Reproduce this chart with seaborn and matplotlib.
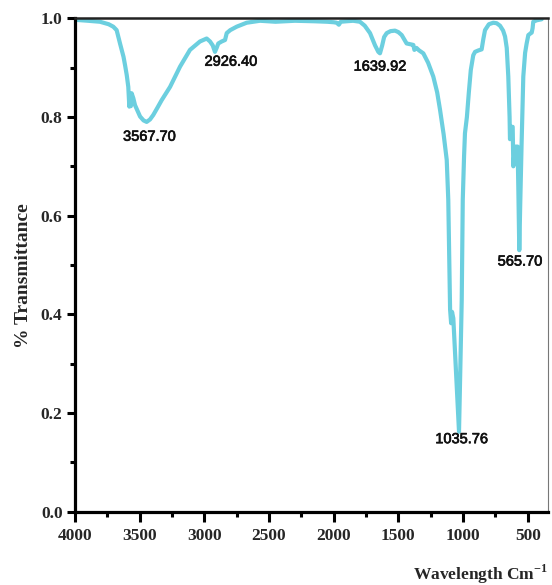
import numpy as np
import pandas as pd
import matplotlib
matplotlib.use("Agg")
import matplotlib.pyplot as plt
import matplotlib.patheffects as pe
from matplotlib.ticker import MultipleLocator
import seaborn as sns

# FTIR spectrum: wavenumber (cm^-1) and transmittance
wavenumber = [4000, 3900, 3807, 3740, 3704, 3678, 3652, 3625, 3613, 3600,
              3588, 3580, 3575, 3568, 3562, 3549, 3536, 3497, 3470, 3446,
              3420, 3395, 3360, 3330, 3265, 3188, 3111, 3034, 2982, 2956,
              2935, 2918, 2905, 2892, 2866, 2840, 2827, 2800, 2750, 2673,
              2570, 2450, 2300, 2150, 2050, 2000, 1977, 1960, 1945, 1900,
              1850, 1797, 1760, 1719, 1680, 1655, 1642, 1625, 1610, 1590,
              1560, 1526, 1500, 1474, 1436, 1400, 1384, 1376, 1360, 1340,
              1307, 1270, 1230, 1200, 1178, 1150, 1126, 1114, 1100, 1092,
              1085, 1075, 1031, 1010, 1002, 992, 985, 970, 955, 940,
              921, 907, 880, 856, 843, 830, 800, 766, 740, 714,
              690, 675, 662, 650, 640, 637, 630, 625, 616, 611,
              605, 593, 578, 572, 565, 558, 547, 534, 520, 508,
              495, 480, 469, 462, 457, 430, 392]
transmittance = [0.997, 0.995, 0.993, 0.988, 0.983, 0.976, 0.949, 0.922, 0.905, 0.885,
                 0.861, 0.821, 0.848, 0.822, 0.848, 0.838, 0.824, 0.801, 0.793, 0.790,
                 0.795, 0.804, 0.820, 0.834, 0.861, 0.902, 0.936, 0.953, 0.959, 0.953,
                 0.945, 0.932, 0.940, 0.949, 0.953, 0.956, 0.970, 0.976, 0.983, 0.991,
                 0.995, 0.993, 0.995, 0.994, 0.993, 0.992, 0.991, 0.987, 0.993, 0.994,
                 0.995, 0.993, 0.985, 0.970, 0.945, 0.932, 0.929, 0.945, 0.962, 0.970,
                 0.974, 0.975, 0.972, 0.966, 0.949, 0.947, 0.946, 0.936, 0.940, 0.935,
                 0.929, 0.910, 0.882, 0.850, 0.815, 0.765, 0.713, 0.632, 0.410, 0.382,
                 0.405, 0.392, 0.162, 0.429, 0.632, 0.720, 0.767, 0.800, 0.850, 0.895,
                 0.925, 0.932, 0.935, 0.937, 0.958, 0.976, 0.988, 0.991, 0.990, 0.985,
                 0.975, 0.963, 0.940, 0.882, 0.800, 0.755, 0.762, 0.780, 0.780, 0.700,
                 0.720, 0.740, 0.740, 0.650, 0.530, 0.620, 0.747, 0.882, 0.930, 0.949,
                 0.966, 0.969, 0.971, 0.980, 0.993, 0.996, 0.998]

# Peak labels: text, label position (wavenumber, transmittance)
peak_labels = ["3567.70", "2926.40", "1639.92", "1035.76", "565.70"]
peak_label_x = [3424, 2794, 1642, 1010, 559]
peak_label_y = [0.760, 0.912, 0.902, 0.147, 0.507]

x_ticks = [4000, 3500, 3000, 2500, 2000, 1500, 1000, 500]
y_ticks = [0.0, 0.2, 0.4, 0.6, 0.8, 1.0]

sns.set_style("ticks")
plt.rcParams["font.family"] = ["Liberation Serif", "DejaVu Serif"]
plt.rcParams["mathtext.fontset"] = "custom"
plt.rcParams["mathtext.rm"] = "Liberation Serif:bold"
plt.rcParams["mathtext.bf"] = "Liberation Serif:bold"

df = pd.DataFrame({"wavenumber": wavenumber, "transmittance": transmittance})

fig = plt.figure(figsize=(5.52, 5.85), dpi=100)
ax = fig.add_axes([75 / 552, 73.3 / 585, 473 / 552, 493.4 / 585])

sns.lineplot(data=df, x="wavenumber", y="transmittance", ax=ax, sort=False,
             color="#6ccfdf", linewidth=3.0, solid_joinstyle="round",
             solid_capstyle="round")

ax.set_xlim(4000, 343)
ax.set_ylim(0.0, 1.0)
ax.set_xticks(x_ticks)
ax.set_xticklabels([str(v) for v in x_ticks])
ax.xaxis.set_minor_locator(MultipleLocator(250))
ax.set_yticks(y_ticks)
ax.set_yticklabels([f"{v:.1f}" for v in y_ticks])
ax.yaxis.set_minor_locator(MultipleLocator(0.1))

ax.tick_params(axis="x", which="major", length=7, width=2.2, pad=5,
               labelsize=12.5, direction="out", color="black")
ax.tick_params(axis="x", which="minor", length=3.6, width=2.2, direction="out",
               color="black")
ax.tick_params(axis="y", which="major", length=6, width=2.2, pad=3,
               labelsize=12.5, direction="out", color="black")
ax.tick_params(axis="y", which="minor", length=3.6, width=2.2, direction="out",
               color="black")
for lbl in ax.get_xticklabels() + ax.get_yticklabels():
    lbl.set_fontweight("bold")

for side in ["left", "bottom"]:
    ax.spines[side].set_linewidth(2.3)
    ax.spines[side].set_color("black")
ax.spines["top"].set_linewidth(1.8)
ax.spines["top"].set_color("#222222")
ax.spines["right"].set_linewidth(0.8)
ax.spines["right"].set_color("#777777")

ax.set_xlabel("")
ax.set_ylabel("")
fig.text(24 / 552, 1 - 276 / 585, "% Transmittance", rotation=90,
         ha="center", va="center", fontsize=14, fontweight="bold")
fig.text(548 / 552, 1 - 574 / 585, r"Wavelength Cm$^{\mathregular{-1}}$",
         ha="right", va="center", fontsize=12.5, fontweight="bold")

for txt, px, py in zip(peak_labels, peak_label_x, peak_label_y):
    ax.text(px, py, txt, ha="center", va="center", fontsize=10.5,
            family=["Liberation Sans", "DejaVu Sans"], color="#111111",
            path_effects=[pe.withStroke(linewidth=0.5, foreground="#111111")])

fig.savefig("out.png", dpi=100, facecolor="white")
